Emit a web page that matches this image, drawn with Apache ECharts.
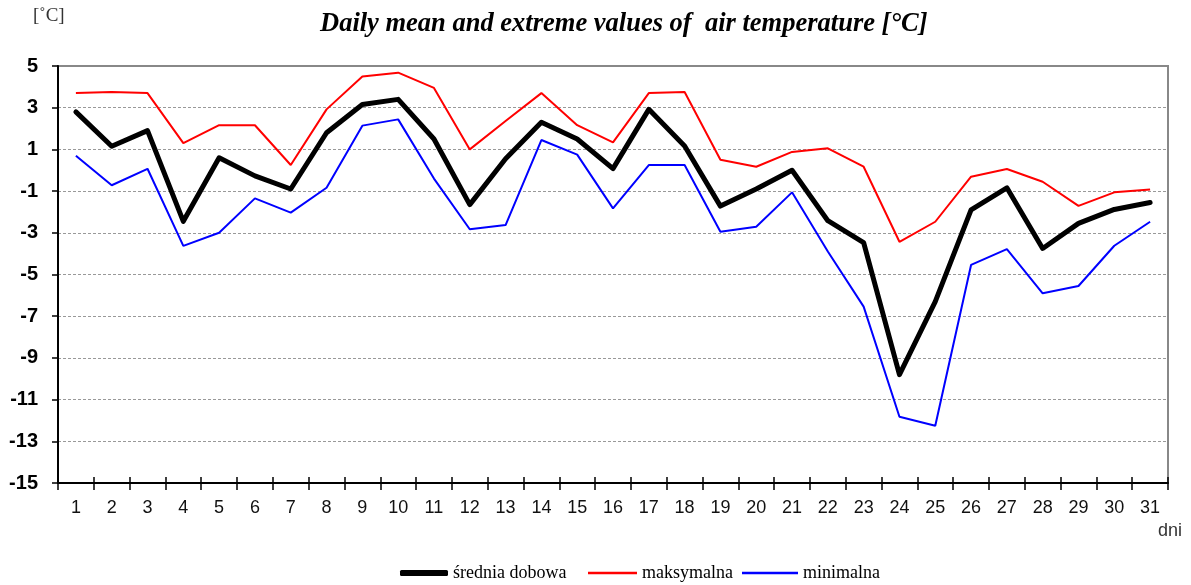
<!DOCTYPE html>
<html><head><meta charset="utf-8">
<script src="https://cdn.jsdelivr.net/npm/echarts@6/dist/echarts.min.js"></script>
<style>html,body{margin:0;padding:0;background:#fff}#c{width:1191px;height:585px}</style>
</head><body><div id="c"></div>
<script>
const days = ['1','2','3','4','5','6','7','8','9','10','11','12','13','14','15','16','17','18','19','20','21','22','23','24','25','26','27','28','29','30','31'];
const meanT = [2.8,1.15,1.9,-2.45,0.6,-0.27,-0.9,1.8,3.15,3.4,1.5,-1.65,0.55,2.3,1.5,0.08,2.92,1.16,-1.72,-0.9,0.0,-2.42,-3.47,-9.8,-6.3,-1.9,-0.84,-3.75,-2.55,-1.88,-1.55];
const maxT = [3.7,3.75,3.7,1.3,2.16,2.16,0.25,2.92,4.5,4.68,3.95,1.0,2.36,3.7,2.16,1.34,3.7,3.75,0.5,0.17,0.88,1.05,0.17,-3.43,-2.47,-0.31,0.06,-0.55,-1.71,-1.06,-0.92];
const minT = [0.7,-0.72,0.07,-3.63,-3.0,-1.35,-2.03,-0.84,2.14,2.44,-0.4,-2.83,-2.63,1.45,0.75,-1.83,0.25,0.25,-2.95,-2.71,-1.06,-3.9,-6.54,-11.82,-12.25,-4.54,-3.78,-5.9,-5.55,-3.62,-2.47];
const yTicks = {min:-15, max:5, interval:2};
const names = ['średnia dobowa','maksymalna','minimalna'];

const legendText = {fontFamily:'Liberation Serif',fontSize:18,color:'#000'};
const chart = echarts.init(document.getElementById('c'));
chart.setOption({
  animation:false,
  textStyle:{fontFamily:'Liberation Sans'},
  title:[{
    text:'Daily mean and extreme values of  air temperature [°C]',
    left:315, top:6,
    textStyle:{fontFamily:'Liberation Serif',fontStyle:'italic',fontWeight:'bold',fontSize:26.5,color:'#000'}
  }],
  graphic:[
    {type:'text',left:33,top:7,style:{text:'[˚C]',font:'19px "Liberation Serif"',fill:'#333'}},
    {type:'text',left:1158,top:522,style:{text:'dni',font:'18px "Liberation Sans"',fill:'#333'}}
  ],
  grid:{left:58,right:23,top:66,bottom:102,show:true,borderColor:'#888',borderWidth:2,containLabel:false},
  legend:[
    {left:395,bottom:-2,itemWidth:48,itemHeight:6,icon:'roundRect',textStyle:legendText,data:[names[0]]},
    {left:583,bottom:-2,itemWidth:49,itemHeight:2.5,icon:'rect',textStyle:legendText,data:[names[1]]},
    {left:737,bottom:-2,itemWidth:56,itemHeight:2.5,icon:'rect',textStyle:legendText,data:[names[2]]}
  ],
  xAxis:[{
    type:'category',data:days,boundaryGap:true,
    axisLine:{onZero:false,lineStyle:{color:'#000',width:2}},
    axisTick:{show:true,length:7,lineStyle:{color:'#000',width:1.5}},
    axisLabel:{color:'#111',fontSize:18,margin:16,interval:0}
  },{
    type:'category',data:days,boundaryGap:true,position:'bottom',
    axisLine:{show:false,onZero:false},
    axisTick:{show:true,inside:true,length:6,lineStyle:{color:'#000',width:1.5}},
    axisLabel:{show:false}
  }],
  yAxis:{
    type:'value',min:yTicks.min,max:yTicks.max,interval:yTicks.interval,
    axisLine:{show:true,lineStyle:{color:'#000',width:2}},
    axisTick:{show:true,length:6,lineStyle:{color:'#000',width:1.5}},
    axisLabel:{color:'#000',fontSize:20,fontWeight:'bold',margin:20,padding:[4,0,0,0]},
    splitLine:{show:true,showMinLine:false,showMaxLine:false,lineStyle:{color:'#999',type:[3,2],width:1}}
  },
  series:[
    {name:names[0],type:'line',data:meanT,symbol:'none',lineStyle:{color:'#000',width:5,cap:'round',join:'round'},itemStyle:{color:'#000'},z:5},
    {name:names[1],type:'line',data:maxT,symbol:'none',lineStyle:{color:'#ff0000',width:2},itemStyle:{color:'#ff0000'},z:4},
    {name:names[2],type:'line',data:minT,symbol:'none',lineStyle:{color:'#0000ff',width:2},itemStyle:{color:'#0000ff'},z:3}
  ]
});
</script></body></html>
